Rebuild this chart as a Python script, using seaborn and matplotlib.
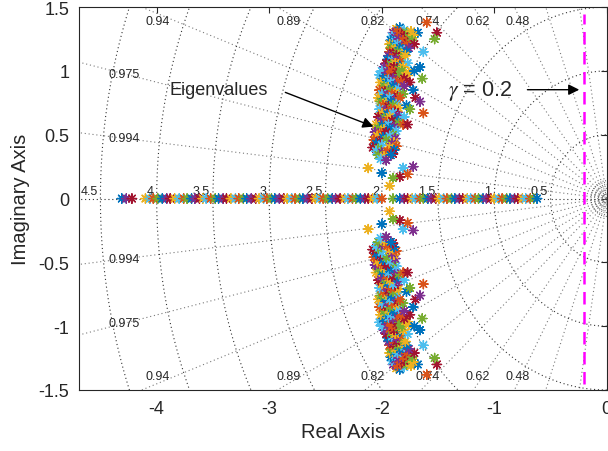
import numpy as np
import pandas as pd
import matplotlib
matplotlib.use("Agg")
import matplotlib.pyplot as plt
import seaborn as sns

# poles on the real axis
real_poles = [-4.31, -4.27, -4.22,
              -4.10, -4.06, -4.03, -3.99, -3.95, -3.91, -3.88, -3.84, -3.80, -3.76,
              -3.73, -3.69, -3.66, -3.62, -3.59, -3.56, -3.52, -3.48, -3.45, -3.41,
              -3.38, -3.34, -3.30, -3.27, -3.23, -3.20, -3.16, -3.12, -3.09, -3.05,
              -3.02, -2.98, -2.95, -2.91, -2.87, -2.84, -2.80, -2.77, -2.73, -2.70,
              -2.66, -2.62, -2.59, -2.55, -2.52, -2.48, -2.44, -2.41, -2.37, -2.33,
              -2.30, -2.26, -2.23, -2.19, -2.15, -2.12, -2.08, -2.04, -2.00,
              -1.90, -1.84,
              -1.80, -1.77, -1.73, -1.70, -1.66, -1.63, -1.59, -1.56, -1.52, -1.49,
              -1.45, -1.42, -1.38, -1.35, -1.31, -1.28, -1.24, -1.21, -1.17, -1.14,
              -1.10, -1.07, -1.03, -1.00, -0.96, -0.93, -0.89, -0.86, -0.82, -0.79,
              -0.75, -0.72, -0.68, -0.65, -0.62]

# complex poles, upper half plane (the lower half is the conjugate)
upper_poles = [
    (-1.87, 1.33), (-1.84, 1.34), (-1.80, 1.32),
    (-1.90, 1.30), (-1.86, 1.31), (-1.82, 1.29), (-1.78, 1.30), (-1.74, 1.31), (-1.68, 1.30),
    (-1.91, 1.27), (-1.88, 1.26), (-1.84, 1.28), (-1.80, 1.27), (-1.76, 1.26), (-1.72, 1.28),
    (-1.92, 1.24), (-1.88, 1.23), (-1.85, 1.25), (-1.81, 1.24), (-1.77, 1.22), (-1.73, 1.24),
    (-1.93, 1.21), (-1.89, 1.20), (-1.86, 1.21), (-1.82, 1.19), (-1.78, 1.21), (-1.71, 1.21),
    (-1.92, 1.18), (-1.88, 1.17), (-1.84, 1.18), (-1.80, 1.16), (-1.76, 1.18),
    (-1.93, 1.15), (-1.90, 1.14), (-1.86, 1.15), (-1.82, 1.13), (-1.78, 1.15), (-1.63, 1.15),
    (-1.94, 1.12), (-1.90, 1.11), (-1.87, 1.12), (-1.83, 1.10), (-1.79, 1.12),
    (-1.95, 1.09), (-1.91, 1.08), (-1.87, 1.09), (-1.84, 1.07),
    (-1.96, 1.06), (-1.92, 1.05), (-1.88, 1.06), (-1.84, 1.04), (-1.77, 1.06),
    (-1.98, 1.03), (-1.93, 1.02), (-1.89, 1.03), (-1.85, 1.01), (-1.81, 1.03), (-1.66, 1.03),
    (-2.00, 1.00), (-1.95, 0.99), (-1.91, 1.00), (-1.87, 0.98), (-1.82, 1.00), (-1.76, 0.99), (-1.71, 1.00),
    (-2.02, 0.97), (-1.97, 0.96), (-1.93, 0.97), (-1.89, 0.95), (-1.84, 0.97), (-1.79, 0.96),
    (-1.99, 0.94), (-1.94, 0.93), (-1.90, 0.94), (-1.86, 0.92), (-1.80, 0.94), (-1.64, 0.94),
    (-2.01, 0.91), (-1.96, 0.90), (-1.92, 0.91), (-1.88, 0.89), (-1.83, 0.91), (-1.75, 0.91),
    (-1.98, 0.88), (-1.94, 0.87), (-1.90, 0.88), (-1.85, 0.86), (-1.80, 0.88),
    (-2.02, 0.85), (-1.97, 0.84), (-1.93, 0.85), (-1.88, 0.83), (-1.72, 0.85),
    (-2.00, 0.82), (-1.95, 0.81), (-1.91, 0.82), (-1.86, 0.80), (-1.81, 0.82),
    (-2.03, 0.79), (-1.98, 0.78), (-1.93, 0.79), (-1.89, 0.77), (-1.84, 0.79), (-1.70, 0.79),
    (-2.01, 0.76), (-1.96, 0.75), (-1.92, 0.76), (-1.87, 0.74), (-1.66, 0.76),
    (-1.99, 0.73), (-1.94, 0.72), (-1.90, 0.73), (-1.85, 0.71), (-1.78, 0.73),
    (-2.02, 0.70), (-1.97, 0.69), (-1.92, 0.70), (-1.88, 0.68), (-1.75, 0.70),
    (-2.00, 0.67), (-1.95, 0.66), (-1.90, 0.67), (-1.85, 0.65), (-1.63, 0.67),
    (-2.03, 0.64), (-1.98, 0.63), (-1.93, 0.64), (-1.88, 0.62), (-1.80, 0.64),
    (-2.01, 0.61), (-1.96, 0.60), (-1.91, 0.61), (-1.85, 0.59),
    (-2.05, 0.58), (-2.00, 0.57), (-1.94, 0.58), (-1.89, 0.56), (-1.81, 0.58), (-1.77, 0.58),
    (-2.03, 0.55), (-1.98, 0.54), (-1.93, 0.55), (-1.87, 0.53),
    (-2.06, 0.52), (-2.01, 0.51), (-1.96, 0.52), (-1.90, 0.50),
    (-2.04, 0.49), (-1.99, 0.48), (-1.93, 0.49), (-1.88, 0.47),
    (-2.07, 0.46), (-2.02, 0.45), (-1.96, 0.46), (-1.89, 0.44),
    (-2.05, 0.43), (-2.00, 0.42), (-1.91, 0.43), (-1.87, 0.41),
    (-2.08, 0.40), (-2.03, 0.39), (-1.93, 0.40), (-1.89, 0.38),
    (-2.05, 0.37), (-2.00, 0.36), (-1.95, 0.37), (-1.90, 0.35),
    (-2.03, 0.34), (-1.98, 0.33), (-1.92, 0.34),
    (-2.01, 0.31), (-1.96, 0.30),
    (-1.60, 1.38), (-1.51, 1.30), (-1.53, 1.25),
    (-2.12, 0.24), (-2.00, 0.20), (-1.81, 0.24), (-1.72, 0.25),
    (-1.77, 0.19), (-1.84, 0.17), (-1.90, 0.16), (-1.93, 0.10),
]

# sgrid
damping = [0.16, 0.34, 0.48, 0.62, 0.74, 0.82, 0.89, 0.94, 0.975, 0.994]
top_labels = [0.48, 0.62, 0.74, 0.82, 0.89, 0.94]
side_labels = [0.975, 0.994]
freqs = [0.5, 1, 1.5, 2, 2.5, 3, 3.5, 4, 4.5]
small_freqs = [0.02, 0.05, 0.08, 0.11, 0.14]
gamma = 0.2

matlab_colors = ["#0072BD", "#D95319", "#EDB120", "#7E2F8E",
                 "#77AC30", "#4DBEEE", "#A2142F"]

up_re = [p[0] for p in upper_poles]
up_im = [p[1] for p in upper_poles]
df = pd.DataFrame({
    "re": real_poles + up_re + up_re,
    "im": [0.0] * len(real_poles) + up_im + [-v for v in up_im],
})
n_real, n_up = len(real_poles), len(upper_poles)
grp = [(i * 3) % 7 for i in range(n_real)] + [(i * 5 + 2) % 7 for i in range(n_up)] * 2
df["grp"] = grp

sns.set_style("white")
plt.rcParams["font.family"] = ["Liberation Sans", "DejaVu Sans"]
plt.rcParams["mathtext.fontset"] = "stix"

fig = plt.figure(figsize=(6.08, 4.52), dpi=100)
ax = fig.add_axes([0.130, 0.135, 0.868, 0.847])

grid_kw = dict(lw=0.8, ls=(0, (1, 2.5)), zorder=1)
# constant damping rays
for z in damping:
    th = np.arccos(z)
    ax.plot([0, -6 * np.cos(th)], [0, 6 * np.sin(th)], color="#7a7a7a", **grid_kw)
    ax.plot([0, -6 * np.cos(th)], [0, -6 * np.sin(th)], color="#7a7a7a", **grid_kw)
ax.plot([-6, 0], [0, 0], color="#333333", **grid_kw)
# constant natural frequency arcs
t = np.linspace(-np.pi / 2, np.pi / 2, 300)
for w in freqs:
    ax.plot(-w * np.cos(t), w * np.sin(t), color="#333333", **grid_kw)
for w in small_freqs:
    ax.plot(-w * np.cos(t), w * np.sin(t), color="#555555", lw=0.7,
            ls=(0, (1, 1.5)), zorder=1)

for z in top_labels:
    xl = -1.45 * z / np.sqrt(1 - z ** 2)
    for s in (1, -1):
        ax.text(xl, s * 1.39, f"{z:g}", fontsize=9, ha="center", va="center", color="#262626")
for z in side_labels:
    yl = 4.29 * np.sqrt(1 - z ** 2) / z
    for s in (1, -1):
        ax.text(-4.29, s * yl, f"{z:g}", fontsize=9, ha="center", va="center", color="#262626")
for w in freqs:
    ax.text(-w - 0.025, 0.015, f"{w:g}", fontsize=9, ha="right", va="bottom", color="#262626")

sns.scatterplot(data=df, x="re", y="im", hue="grp", palette=matlab_colors,
                marker=(8, 2, 0), s=45, linewidth=1.0, legend=False, ax=ax, zorder=3)

ax.plot([-gamma, -gamma], [-1.45, 1.45], color="#FF00FF", lw=1.8,
        ls=(0, (5, 3)), zorder=4)

ax.annotate("", xy=(-2.05, 0.556), xytext=(-2.88, 0.84),
            arrowprops=dict(arrowstyle="-|>", color="k", lw=1, mutation_scale=16))
ax.text(-3.45, 0.853, "Eigenvalues", fontsize=13, ha="center", va="center")
ax.annotate("", xy=(-0.22, 0.853), xytext=(-0.73, 0.853),
            arrowprops=dict(arrowstyle="-|>", color="k", lw=1, mutation_scale=16))
ax.text(-1.13, 0.853, r"$\gamma$ = 0.2", fontsize=15.5, ha="center", va="center")

ax.set_xlim(-4.69, 0)
ax.set_ylim(-1.5, 1.5)
ax.set_xticks([-4, -3, -2, -1, 0])
ax.set_xticklabels(["-4", "-3", "-2", "-1", "0"])
ax.set_yticks([-1.5, -1, -0.5, 0, 0.5, 1, 1.5])
ax.set_yticklabels(["-1.5", "-1", "-0.5", "0", "0.5", "1", "1.5"])
ax.tick_params(direction="in", top=True, right=True, length=4, width=0.8,
               labelsize=13, colors="#262626", pad=7)
for sp in ax.spines.values():
    sp.set_color("#262626")
    sp.set_linewidth(0.8)
ax.set_xlabel("Real Axis", fontsize=14.5, color="#262626", labelpad=4)
ax.set_ylabel("Imaginary Axis", fontsize=14.5, color="#262626", labelpad=6)

fig.savefig("out.png", dpi=100)
